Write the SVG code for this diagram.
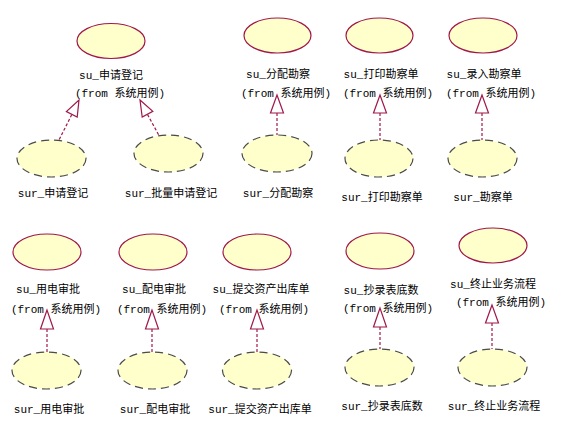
<svg xmlns="http://www.w3.org/2000/svg" width="563" height="421" viewBox="0 0 563 421">
<style>
.uc{fill:#FFFFCC;stroke:#A0184A;stroke-width:1.2}
.ucr{fill:#FFFFCC;stroke:#4A4A4A;stroke-width:1.2;stroke-dasharray:8 5}
.t{font-family:"Liberation Mono","Noto Sans CJK SC",monospace;font-size:11px;fill:#000;text-anchor:middle}
.ln{stroke:#A0184A;stroke-width:1.2;stroke-dasharray:3 2;fill:none}
.hd{fill:#FFFFFF;stroke:#A0184A;stroke-width:1.2}
</style>
<rect width="563" height="421" fill="#FFFFFF"/>
<g id="su_shenqing">
<ellipse class="uc" cx="111" cy="41" rx="34" ry="17.5"/>
<text class="t" x="111" y="79">su_申请登记</text>
<text class="t" x="120" y="97">(from 系统用例)</text>
</g>
<g id="su_fenpei">
<ellipse class="uc" cx="277.5" cy="35.5" rx="33.5" ry="17.5"/>
<text class="t" x="278" y="78">su_分配勘察</text>
<text class="t" x="286" y="97">(from 系统用例)</text>
</g>
<g id="su_dayin">
<ellipse class="uc" cx="379.5" cy="35.5" rx="33.5" ry="17.5"/>
<text class="t" x="381" y="78">su_打印勘察单</text>
<text class="t" x="388" y="97">(from 系统用例)</text>
</g>
<g id="su_luru">
<ellipse class="uc" cx="483" cy="35.5" rx="34" ry="17.5"/>
<text class="t" x="484" y="78">su_录入勘察单</text>
<text class="t" x="491" y="97">(from 系统用例)</text>
</g>
<g id="su_yongdian">
<ellipse class="uc" cx="47" cy="252" rx="34" ry="18"/>
<text class="t" x="48" y="293">su_用电审批</text>
<text class="t" x="56" y="313">(from 系统用例)</text>
</g>
<g id="su_peidian">
<ellipse class="uc" cx="153" cy="252" rx="34" ry="18"/>
<text class="t" x="154" y="293">su_配电审批</text>
<text class="t" x="162" y="313">(from 系统用例)</text>
</g>
<g id="su_tijiao">
<ellipse class="uc" cx="257" cy="252" rx="34" ry="18"/>
<text class="t" x="261" y="293">su_提交资产出库单</text>
<text class="t" x="264" y="313">(from 系统用例)</text>
</g>
<g id="su_chaolu">
<ellipse class="uc" cx="380" cy="251" rx="34" ry="18"/>
<text class="t" x="381" y="294">su_抄录表底数</text>
<text class="t" x="388" y="312">(from 系统用例)</text>
</g>
<g id="su_zhongzhi">
<ellipse class="uc" cx="493" cy="245.5" rx="34" ry="17.5"/>
<text class="t" x="493" y="288">su_终止业务流程</text>
<text class="t" x="501" y="306">(from 系统用例)</text>
</g>
<g id="sur_shenqing">
<ellipse class="ucr" cx="51.5" cy="158.5" rx="34.5" ry="18.5"/>
<text class="t" x="53" y="197">sur_申请登记</text>
</g>
<g id="sur_piliang">
<ellipse class="ucr" cx="168.5" cy="153.5" rx="34.5" ry="18.5"/>
<text class="t" x="171" y="197">sur_批量申请登记</text>
</g>
<g id="sur_fenpei">
<ellipse class="ucr" cx="277" cy="153.5" rx="35" ry="18.5"/>
<text class="t" x="278" y="197">sur_分配勘察</text>
</g>
<g id="sur_dayin">
<ellipse class="ucr" cx="379" cy="158.5" rx="34" ry="18.5"/>
<text class="t" x="382" y="201">sur_打印勘察单</text>
</g>
<g id="sur_kancha">
<ellipse class="ucr" cx="482.5" cy="158.5" rx="34.5" ry="18.5"/>
<text class="t" x="483" y="201">sur_勘察单</text>
</g>
<g id="sur_yongdian">
<ellipse class="ucr" cx="46.5" cy="370.5" rx="34.5" ry="18.5"/>
<text class="t" x="49" y="413">sur_用电审批</text>
</g>
<g id="sur_peidian">
<ellipse class="ucr" cx="152.5" cy="370.5" rx="34.5" ry="18.5"/>
<text class="t" x="155" y="413">sur_配电审批</text>
</g>
<g id="sur_tijiao">
<ellipse class="ucr" cx="257" cy="370.5" rx="34.5" ry="18.5"/>
<text class="t" x="260" y="413">sur_提交资产出库单</text>
</g>
<g id="sur_chaolu">
<ellipse class="ucr" cx="379.5" cy="367.5" rx="34.5" ry="18.5"/>
<text class="t" x="382" y="410">sur_抄录表底数</text>
</g>
<g id="sur_zhongzhi">
<ellipse class="ucr" cx="492.5" cy="367.5" rx="34.5" ry="18.5"/>
<text class="t" x="494" y="410">sur_终止业务流程</text>
</g>
<g id="connectors">
<line class="ln" x1="71.8" y1="114.5" x2="59" y2="140"/>
<polygon class="hd" points="79,100 77.2,117 66.4,111.6"/>
<line class="ln" x1="147.5" y1="114.5" x2="159" y2="135.5"/>
<polygon class="hd" points="140,100 152.8,111.4 142.2,117"/>
<line class="ln" x1="277" y1="113" x2="277" y2="135"/>
<polygon class="hd" points="277,95 270.5,113 283.5,113"/>
<line class="ln" x1="380" y1="113" x2="380" y2="140"/>
<polygon class="hd" points="380,95 373.5,113 386.5,113"/>
<line class="ln" x1="482" y1="113" x2="482" y2="140"/>
<polygon class="hd" points="482,95 475.5,113 488.5,113"/>
<line class="ln" x1="47" y1="329" x2="47" y2="352"/>
<polygon class="hd" points="47,310 40.5,329 53.5,329"/>
<line class="ln" x1="152" y1="329" x2="152" y2="352"/>
<polygon class="hd" points="152,310 145.5,329 158.5,329"/>
<line class="ln" x1="257" y1="329" x2="257" y2="352"/>
<polygon class="hd" points="257,310 250.5,329 263.5,329"/>
<line class="ln" x1="380" y1="327" x2="380" y2="349"/>
<polygon class="hd" points="380,308 373.5,327 386.5,327"/>
<line class="ln" x1="492" y1="323" x2="492" y2="349"/>
<polygon class="hd" points="492,305 485.5,323 498.5,323"/>
</g>
</svg>
